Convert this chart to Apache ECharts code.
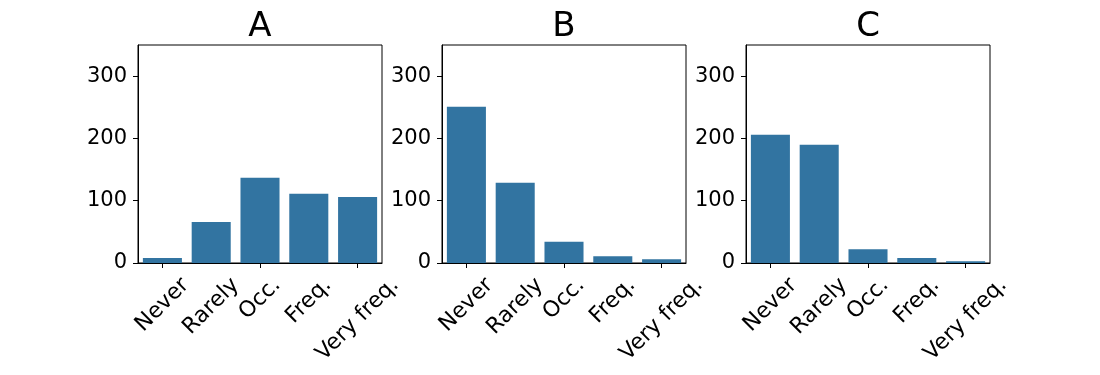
<!DOCTYPE html>
<html>
<head>
<meta charset="utf-8">
<script src="https://cdn.jsdelivr.net/npm/echarts@6/dist/echarts.min.js"></script>
<style>
html,body{margin:0;padding:0;background:#fff;}
#main{width:1100px;height:375px;}
</style>
</head>
<body>
<div id="main"></div>
<script>
const categories = ['Never', 'Rarely', 'Occ.', 'Freq.', 'Very freq.'];
const panelTitles = ['A', 'B', 'C'];
const valuesA = [8, 66, 137, 111, 106];
const valuesB = [251, 129, 34, 11, 6];
const valuesC = [206, 190, 22, 8, 3];
const yTicks = [0, 100, 200, 300];
const yMax = 350;

const panelValues = [valuesA, valuesB, valuesC];
const FONT = 'DejaVu Sans';
const BAR_COLOR = '#3274a1';
const gridLefts = [138, 442, 746];
const gridWidth = 244;
const gridTop = 45;
const gridHeight = 218;
const XLAB_SIZE = 22;

const chart = echarts.init(document.getElementById('main'), null, {renderer: 'canvas'});

const grids = [], xAxes = [], yAxes = [], series = [];
panelValues.forEach((vals, i) => {
  grids.push({left: gridLefts[i], top: gridTop, width: gridWidth, height: gridHeight,
    show: true, borderColor: '#000', borderWidth: 1, backgroundColor: 'transparent'});
  xAxes.push({type: 'category', gridIndex: i, data: categories,
    axisLine: {show: true, lineStyle: {color: '#000', width: 1}},
    axisTick: {show: true, alignWithLabel: true, length: 5, lineStyle: {color: '#000', width: 1}},
    axisLabel: {show: false}, splitLine: {show: false}});
  yAxes.push({type: 'value', gridIndex: i, min: 0, max: yMax,
    axisLine: {show: true, lineStyle: {color: '#000', width: 1}},
    axisTick: {show: true, length: 5, customValues: yTicks, lineStyle: {color: '#000', width: 1}},
    axisLabel: {show: true, customValues: yTicks, fontSize: 21, fontFamily: FONT, color: '#000', margin: 11},
    splitLine: {show: false}});
  series.push({type: 'bar', xAxisIndex: i, yAxisIndex: i, data: vals,
    barCategoryGap: '20%', itemStyle: {color: BAR_COLOR}});
});

chart.setOption({animation: false, grid: grids, xAxis: xAxes, yAxis: yAxes, series: series});

// Titles and rotated category labels placed like matplotlib (rotated bbox centred under the tick)
const ctx = document.createElement('canvas').getContext('2d');
ctx.font = XLAB_SIZE + 'px "DejaVu Sans"';
const lineH = 1.164 * XLAB_SIZE;
const graphics = [];
panelValues.forEach((vals, i) => {
  const baseY = chart.convertToPixel({yAxisIndex: i}, 0);
  const topY = chart.convertToPixel({yAxisIndex: i}, yMax);
  const xl = chart.convertToPixel({xAxisIndex: i}, categories[0]);
  const xr = chart.convertToPixel({xAxisIndex: i}, categories[categories.length - 1]);
  graphics.push({type: 'text', x: (xl + xr) / 2, y: topY - 18, silent: true,
    style: {text: panelTitles[i], fontSize: 34, fontFamily: FONT, fill: '#000',
      align: 'center', verticalAlign: 'middle', textAlign: 'center', textVerticalAlign: 'middle'}});
  categories.forEach((cat, j) => {
    const x = chart.convertToPixel({xAxisIndex: i}, cat);
    const L = ctx.measureText(cat).width;
    const y = baseY + 9.7 + (L + lineH) / (2 * Math.SQRT2);
    graphics.push({type: 'text', x: x, y: y, rotation: Math.PI / 4, silent: true,
      style: {text: cat, fontSize: XLAB_SIZE, fontFamily: FONT, fill: '#000', align: 'center', verticalAlign: 'middle',
        textAlign: 'center', textVerticalAlign: 'middle'}});
  });
});
chart.setOption({graphic: graphics});
</script>
</body>
</html>
